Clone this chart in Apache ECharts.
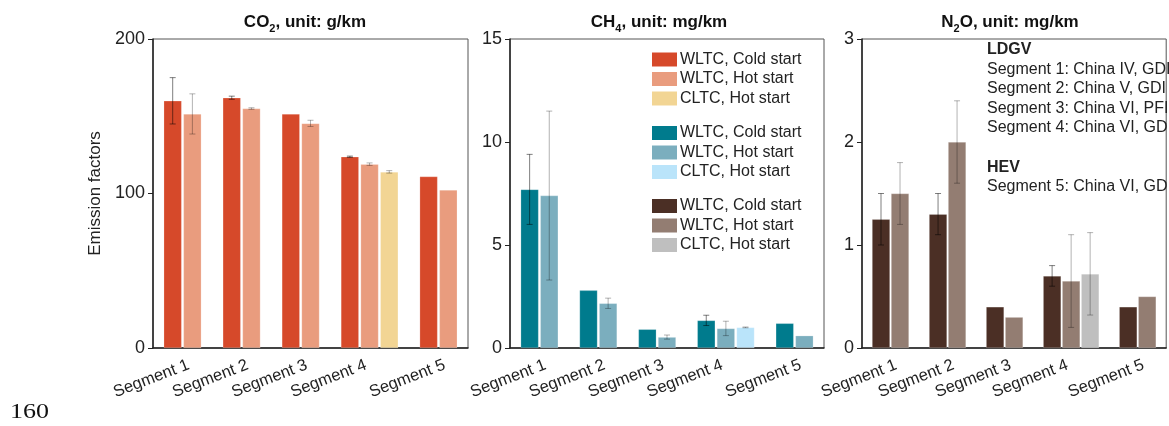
<!DOCTYPE html>
<html>
<head>
<meta charset="utf-8">
<script src="https://cdn.jsdelivr.net/npm/echarts@6/dist/echarts.min.js"></script>
<style>
html,body{margin:0;padding:0;background:#fff;}
#chart{width:1169px;height:426px;}
</style>
</head>
<body>
<div id="chart"></div>
<script>
// ---------- data ----------
const segments = ['Segment 1', 'Segment 2', 'Segment 3', 'Segment 4', 'Segment 5'];
const seriesNames = ['WLTC, Cold start', 'WLTC, Hot start', 'CLTC, Hot start'];

// CO2 (g/km)
const co2Cold    = [160, 162, 151.5, 123.8, 111];
const co2ColdErr = [15, 1, 0, 0.4, 0];
const co2Hot     = [151.5, 155, 145.4, 119, 102.3];
const co2HotErr  = [13, 0.5, 2, 0.8, 0];
const co2Cltc    = [null, null, null, 114, null];
const co2CltcErr = [0, 0, 0, 0.8, 0];

// CH4 (mg/km)
const ch4Cold    = [7.7, 2.8, 0.91, 1.34, 1.2];
const ch4ColdErr = [1.7, 0, 0, 0.25, 0];
const ch4Hot     = [7.4, 2.17, 0.53, 0.95, 0.6];
const ch4HotErr  = [4.1, 0.25, 0.1, 0.35, 0];
const ch4Cltc    = [null, null, null, 1.0, null];
const ch4CltcErr = [0, 0, 0, 0.02, 0];

// N2O (mg/km)
const n2oCold    = [1.25, 1.3, 0.4, 0.7, 0.4];
const n2oColdErr = [0.25, 0.2, 0, 0.1, 0];
const n2oHot     = [1.5, 2.0, 0.3, 0.65, 0.5];
const n2oHotErr  = [0.3, 0.4, 0, 0.45, 0];
const n2oCltc    = [null, null, null, 0.72, null];
const n2oCltcErr = [0, 0, 0, 0.4, 0];

const yTicks = {co2: [0, 200, 100], ch4: [0, 15, 5], n2o: [0, 3, 1]}; // min, max, interval

const panelTitles = [
  ['CO', '2', ', unit: g/km'],
  ['CH', '4', ', unit: mg/km'],
  ['N', '2', 'O, unit: mg/km']
];
const noteLines = [
  ['LDGV', true],
  ['Segment 1: China IV, GDI', false],
  ['Segment 2: China V, GDI', false],
  ['Segment 3: China VI, PFI', false],
  ['Segment 4: China VI, GDI', false],
  ['HEV', true],
  ['Segment 5: China VI, GDI', false]
];
const pageNumber = '160';

// ---------- layout / style ----------
const FONT = '"Liberation Sans", Arial, Helvetica, sans-serif';
const colors = {
  co2: ['#D6492A', '#E99C7E', '#F2D594'],
  ch4: ['#007B8D', '#7BAEBE', '#BAE4FA'],
  n2o: ['#4B2F25', '#937D72', '#BFBFBF']
};
const grids = [
  {left: 153, top: 39, width: 315, height: 309},
  {left: 510, top: 39, width: 314, height: 309},
  {left: 862, top: 39, width: 315, height: 309}
];
const groupStart = [1, 4, 7, 10, 14];   // slot position of the first bar of each segment
const labelPos = {};
segments.forEach((s, i) => { labelPos[groupStart[i] + 1] = s; });

const panels = [
  {key: 'co2', vals: [co2Cold, co2Hot, co2Cltc], errs: [co2ColdErr, co2HotErr, co2CltcErr]},
  {key: 'ch4', vals: [ch4Cold, ch4Hot, ch4Cltc], errs: [ch4ColdErr, ch4HotErr, ch4CltcErr]},
  {key: 'n2o', vals: [n2oCold, n2oHot, n2oCltc], errs: [n2oColdErr, n2oHotErr, n2oCltcErr]}
];

const xAxes = [], yAxes = [], series = [];
panels.forEach((p, pi) => {
  xAxes.push({
    type: 'value', gridIndex: pi, min: 0, max: 16, interval: 1,
    axisLine: {show: true, lineStyle: {color: '#222', width: 1.5}},
    axisTick: {show: false},
    splitLine: {show: false},
    axisLabel: {
      rotate: 21, margin: 15, fontSize: 16.5, color: '#222', fontFamily: FONT,
      padding: [0, 4, 0, 0],
      formatter: v => labelPos[v] || ''
    }
  });
  const t = yTicks[p.key];
  yAxes.push({
    type: 'value', gridIndex: pi, min: t[0], max: t[1], interval: t[2],
    name: pi === 0 ? 'Emission factors' : '',
    nameLocation: 'middle', nameGap: 49, nameRotate: 90,
    nameTextStyle: {fontSize: 17, color: '#222', fontFamily: FONT},
    axisLine: {show: true, lineStyle: {color: '#222', width: 1.5}},
    axisTick: {show: true, inside: false, length: 5, lineStyle: {color: '#222'}},
    splitLine: {show: false},
    axisLabel: {fontSize: 18, color: '#222', margin: 8, fontFamily: FONT}
  });
  p.vals.forEach((vals, si) => {
    const data = [];
    const errData = [];
    vals.forEach((v, k) => {
      if (v == null) return;
      const x = groupStart[k] + si;
      data.push([x, v]);
      if (p.errs[si][k] > 0) errData.push([x, v, p.errs[si][k]]);
    });
    series.push({
      type: 'bar', name: seriesNames[si], xAxisIndex: pi, yAxisIndex: pi,
      barWidth: 18, barGap: '-100%',
      itemStyle: {color: colors[p.key][si], borderColor: 'rgba(255,255,255,0.35)', borderWidth: 0.6},
      data: data, z: 2, silent: true
    });
    const stroke = si === 0 ? 'rgba(0,0,0,0.5)' : 'rgba(0,0,0,0.3)';
    series.push({
      type: 'custom', xAxisIndex: pi, yAxisIndex: pi, z: 5, silent: true,
      encode: {x: 0, y: 1},
      data: errData,
      renderItem: function (params, api) {
        const x = api.value(0), y = api.value(1), e = api.value(2);
        const top = api.coord([x, y + e]);
        const bot = api.coord([x, y - e]);
        const hw = 3;
        const st = {stroke: stroke, lineWidth: 1};
        return {
          type: 'group', children: [
            {type: 'line', shape: {x1: top[0], y1: top[1], x2: bot[0], y2: bot[1]}, style: st},
            {type: 'line', shape: {x1: top[0] - hw, y1: top[1], x2: top[0] + hw, y2: top[1]}, style: st},
            {type: 'line', shape: {x1: bot[0] - hw, y1: bot[1], x2: bot[0] + hw, y2: bot[1]}, style: st}
          ]
        };
      }
    });
  });
});

// ---------- graphics: titles, legend, notes ----------
const graphic = [];
const titleCenters = [305, 659, 1010];
panelTitles.forEach((t, i) => {
  graphic.push({
    type: 'text', z: 10,
    x: titleCenters[i], y: 21,
    style: {
      text: '{b|' + t[0] + '}{s|' + t[1] + '}{b|' + t[2] + '}',
      align: 'center', verticalAlign: 'middle',
      rich: {
        b: {fontSize: 17, fontWeight: 'bold', fontFamily: FONT, fill: '#111', lineHeight: 20, verticalAlign: 'bottom'},
        s: {fontSize: 11, fontWeight: 'bold', fontFamily: FONT, fill: '#111', lineHeight: 14, verticalAlign: 'bottom', padding: [0, 0, -3, 0]}
      }
    }
  });
});
// legend (three groups of three)
const legendRows = [59.5, 79, 98.5, 133, 152.5, 172, 206, 225.5, 245];
['co2', 'ch4', 'n2o'].forEach((k, gi) => {
  seriesNames.forEach((n, si) => {
    const y = legendRows[gi * 3 + si];
    graphic.push({type: 'rect', x: 652, y: y - 7, shape: {width: 25, height: 14},
      style: {fill: colors[k][si]}, z: 10});
    graphic.push({type: 'text', x: 680, y: y, z: 10,
      style: {text: n, fontSize: 16, fontFamily: FONT, fill: '#222', verticalAlign: 'middle', align: 'left'}});
  });
});
// notes in N2O panel
const noteY = [50, 69.5, 89, 108.5, 128, 167.5, 187];
noteLines.forEach((l, i) => {
  graphic.push({type: 'text', x: 987, y: noteY[i], z: 10,
    style: {text: l[0], fontSize: 16, fontWeight: l[1] ? 'bold' : 'normal', fontFamily: FONT, fill: '#222',
      verticalAlign: 'middle', align: 'left'}});
});
// page number
graphic.push({type: 'text', x: 10, y: 413, z: 10, scaleX: 1.3,
  style: {text: pageNumber, fontSize: 20, fontFamily: '"Liberation Serif", "Times New Roman", serif', fill: '#111',
    verticalAlign: 'middle', align: 'left'}});

const chart = echarts.init(document.getElementById('chart'), null, {renderer: 'canvas'});
chart.setOption({
  animation: false,
  backgroundColor: '#fff',
  grid: grids.map(g => Object.assign({show: true, borderColor: '#555', borderWidth: 1, containLabel: false}, g)),
  xAxis: xAxes,
  yAxis: yAxes,
  series: series,
  graphic: graphic
});
</script>
</body>
</html>
